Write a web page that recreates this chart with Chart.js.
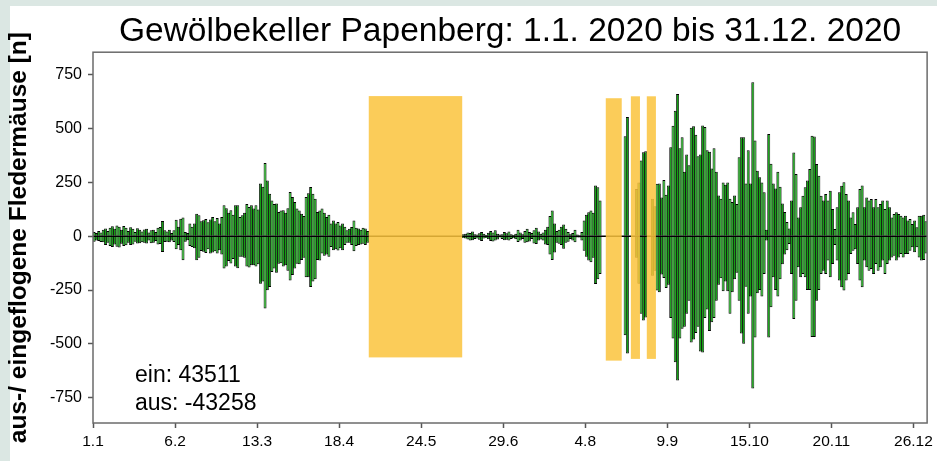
<!DOCTYPE html>
<html>
<head>
<meta charset="utf-8">
<script src="https://cdn.jsdelivr.net/npm/chart.js@4.4.1/dist/chart.umd.min.js"></script>
<style>
  html, body { margin: 0; padding: 0; background: #ffffff; }
  #c { display: block; }
</style>
</head>
<body>
<canvas id="c" width="937" height="461"></canvas>
<script>
// Texts
const chartTitle = 'Gewölbekeller Papenberg: 1.1. 2020 bis 31.12. 2020';
const yAxisTitle = 'aus-/ eingeflogene Fledermäuse [n]';
const summaryLines = ['ein: 43511', 'aus: -43258'];

// Axis ticks (one x label every 36 days, starting 1 January 2020)
const xTickLabels = ['1.1', '6.2', '13.3', '18.4', '24.5', '29.6', '4.8', '9.9', '15.10', '20.11', '26.12'];
const xTickStepDays = 36;
const yTicks = [-750, -500, -250, 0, 250, 500, 750];

// Daily counts of bats flying in (ein), day 0 = 1.1.2020; null = no recording
const ein = [
  20, 15, 25, 18, 30, 36, 25, 40, 47, 35,
  50, 45, 30, 48, 40, 25, 42, 35, 20, 38,
  30, 22, 32, 35, 18, 28, 31, 20, 40, 43,
  71, 28, 22, 30, 15, 28, 77, 45, 82, 88,
  20, 15, 59, 45, 60, 105, 98, 70, 75, 80,
  65, 78, 90, 70, 85, 60, 90, 144, 130, 110,
  121, 100, 144, 144, 90, 98, 110, 150, 136, 144,
  129, 144, 125, 245, 230, 341, 260, 198, 167, 150,
  152, 113, 120, 121, 110, 130, 206, 183, 160, 129,
  120, 105, 95, 183, 200, 229, 198, 175, 113, 120,
  129, 110, 90, 100, 60, 74, 59, 67, 50, 60,
  45, 28, 35, 43, 74, 40, 36, 30, 40, 36,
  25,
  null, null, null, null, null, null, null, null, null, null,
  null, null, null, null, null, null, null, null, null, null,
  null, null, null, null, null, null, null, null, null, null,
  null, null, null, null, null, null, null, null, null, null,
  null,
  10, 12, 18, 15, 22, 10, 8, 14, 20, 12,
  6, 16, 25, 18, 28, 12, 8, 10, 20, 14,
  22, 10, 6, 12, 30, 18, 10, 25, 35, 20,
  15, 28, 40, 22, 12, 18, 30, 45, 95, 120,
  60, 25, 30, 45, 55, 35, 20, 10, 15, 30,
  8, 5, 20, 73, 100, 112, 120, 110, 236, 228,
  166, null, null,
  null, null, null, null, null, null, null, null,
  465, 555, null, null, null, 220, 250, 352, 391, 395, null, null, 175, 140,
  244, 245, 180, 262, 193, 236, 414, 514, 584, 662,
  410, 460, 300, 380, 330, 505, 512, 472, 372, 380,
  515, 508, 400, 393, 315, 410, 300, 190, 175, 250,
  240, 250, 175, 160, 190, 150, 367, 460, 460, 245,
  400, 245, 716, 445, 305, 275, 250, 205, 30, 476,
  337, 245, 222, 300, 230, 152, 113, 67, 36, 166,
  390, 290, 88, 135, 189, 228, 259, 313, 468, 464,
  336, 282, 189, 166, 197, 166, 212, 127, 34, 135,
  205, 235, 251, 197, 166, 88, 112, 57, 135, 220,
  236, 135, 181, 166, 174, 135, 174, 135, 150, 166,
  127, 166, 135, 88, 104, 112, 104, 96, 88, 96,
  73, 81, 57, 73, 42, 96, 96, 100, 70
];

// Daily counts of bats flying out (aus), negative
const aus = [
  -25, -20, -22, -26, -28, -40, -30, -45, -50, -38,
  -48, -52, -35, -45, -42, -30, -40, -38, -25, -34,
  -32, -28, -30, -34, -20, -32, -30, -22, -38, -36,
  -73, -26, -25, -28, -20, -26, -60, -40, -65, -111,
  -25, -18, -45, -50, -55, -111, -100, -68, -72, -78,
  -60, -80, -75, -70, -80, -65, -85, -150, -140, -115,
  -127, -105, -140, -148, -95, -95, -100, -140, -145, -135,
  -135, -140, -130, -220, -210, -336, -251, -236, -166, -150,
  -170, -128, -125, -140, -135, -160, -205, -180, -150, -128,
  -130, -110, -100, -190, -190, -236, -210, -200, -110, -112,
  -80, -90, -85, -95, -50, -65, -60, -66, -55, -65,
  -40, -30, -30, -40, -70, -45, -40, -38, -35, -40,
  -30,
  null, null, null, null, null, null, null, null, null, null,
  null, null, null, null, null, null, null, null, null, null,
  null, null, null, null, null, null, null, null, null, null,
  null, null, null, null, null, null, null, null, null, null,
  null,
  -8, -10, -15, -20, -18, -12, -10, -16, -22, -10,
  -8, -14, -22, -24, -20, -15, -6, -12, -18, -16,
  -20, -12, -8, -14, -26, -20, -12, -30, -28, -24,
  -12, -34, -36, -20, -15, -20, -38, -40, -85, -110,
  -75, -30, -35, -40, -58, -30, -25, -12, -20, -28,
  -6, -5, -20, -67, -95, -113, -121, -100, -222, -200,
  -175, null, null,
  null, null, null, null, null, null, null, null,
  -460, -545, null, null, null, -100, -220, -360, -392, -378, null, null, -183, -160,
  -252, -260, -178, -194, -240, -225, -380, -475, -585, -670,
  -475, -430, -420, -360, -300, -494, -480, -450, -420, -535,
  -540, -380, -340, -440, -400, -380, -300, -225, -195, -255,
  -210, -255, -360, -260, -200, -170, -300, -452, -500, -235,
  -360, -280, -708, -470, -265, -250, -280, -175, -20, -470,
  -330, -190, -250, -280, -200, -130, -85, -65, -36, -175,
  -384, -300, -144, -190, -175, -190, -250, -250, -468, -468,
  -300, -250, -175, -160, -175, -113, -190, -129, -40, -113,
  -206, -237, -252, -206, -175, -82, -67, -60, -129, -206,
  -237, -113, -144, -160, -152, -175, -129, -160, -144, -113,
  -175, -129, -113, -98, -90, -113, -98, -82, -98, -82,
  -82, -67, -51, -74, -51, -98, -113, -110, -80
];

// Periods without recording (day numbers) and the band they are marked with
const gapStart = [121, 225, 236, 243];
const gapEnd   = [162, 232, 240, 247];
const gapLow   = [-563, -578, -570, -570];
const gapHigh  = [652, 642, 651, 651];

const FONT = '"Liberation Sans", Arial, Helvetica, sans-serif';

const toPoints = arr => arr.map((v, i) => ({ x: i + 0.5, y: v }));

const panelPlugin = {
  id: 'panel',
  beforeDraw(chart) {
    const { ctx, width, height } = chart;
    ctx.save();
    ctx.fillStyle = '#dbe7e3';
    ctx.fillRect(0, 0, width, height);
    ctx.fillStyle = '#ffffff';
    ctx.fillRect(10, 6, width - 10, height - 6);
    ctx.restore();
  },
  afterDatasetsDraw(chart) {
    const { ctx, chartArea: a, scales: { x, y } } = chart;
    ctx.save();
    // zero line over the bars
    const y0px = y.getPixelForValue(0);
    ctx.strokeStyle = '#000000';
    ctx.lineWidth = 1.6;
    ctx.beginPath();
    ctx.moveTo(a.left, y0px);
    ctx.lineTo(a.right, y0px);
    ctx.stroke();
    // no-recording bands
    ctx.fillStyle = 'rgba(250, 195, 60, 0.85)';
    for (let i = 0; i < gapStart.length; i++) {
      const x0 = x.getPixelForValue(gapStart[i]);
      const x1 = x.getPixelForValue(gapEnd[i]);
      const yt = y.getPixelForValue(gapHigh[i]);
      const yb = y.getPixelForValue(gapLow[i]);
      ctx.fillRect(x0, yt, x1 - x0, yb - yt);
    }
    // plot frame
    ctx.strokeStyle = '#6b6b6b';
    ctx.lineWidth = 1.5;
    ctx.strokeRect(a.left, a.top, a.right - a.left, a.bottom - a.top);
    // yearly totals
    ctx.fillStyle = '#000000';
    ctx.font = '23px ' + FONT;
    ctx.textBaseline = 'alphabetic';
    ctx.textAlign = 'left';
    ctx.fillText(summaryLines[0], a.left + 42, 382);
    ctx.fillText(summaryLines[1], a.left + 42, 410);
    ctx.restore();
  }
};

const barStyle = {
  backgroundColor: '#14a014',
  borderColor: '#000000',
  borderWidth: { left: 0.8, right: 0.8, top: 1, bottom: 1 },
  borderSkipped: 'start',
  barPercentage: 1.3,
  categoryPercentage: 1
};

new Chart(document.getElementById('c'), {
  type: 'bar',
  data: {
    datasets: [
      Object.assign({ label: 'ein', data: toPoints(ein) }, barStyle),
      Object.assign({ label: 'aus', data: toPoints(aus) }, barStyle)
    ]
  },
  options: {
    responsive: false,
    animation: false,
    devicePixelRatio: 1,
    layout: { padding: { left: 0, right: 9, top: 0, bottom: 0 } },
    plugins: {
      legend: { display: false },
      tooltip: { enabled: false },
      title: {
        display: true,
        text: chartTitle,
        fullSize: false,
        color: '#000000',
        font: { family: FONT, size: 33.5, weight: 'normal', lineHeight: 1.2 },
        padding: { top: 12, bottom: 0 }
      }
    },
    scales: {
      x: {
        type: 'linear',
        min: 0,
        max: 366,
        stacked: true,
        offset: false,
        border: { display: false },
        grid: { offset: false, drawOnChartArea: false, tickLength: 5, tickColor: '#555555', tickWidth: 1.5 },
        ticks: {
          stepSize: xTickStepDays,
          includeBounds: false,
          autoSkip: false,
          maxRotation: 0,
          padding: 4,
          color: '#000000',
          font: { family: FONT, size: 15.5 },
          callback: v => xTickLabels[Math.round(v / xTickStepDays)] ?? ''
        },
        afterFit: s => { s.height = 38; }
      },
      y: {
        min: -868,
        max: 856,
        stacked: true,
        border: { display: false },
        grid: {
          drawOnChartArea: false,
          tickLength: 5,
          tickColor: '#555555',
          tickWidth: 1.5
        },
        afterBuildTicks: s => { s.ticks = yTicks.map(v => ({ value: v })); },
        ticks: {
          padding: 6,
          color: '#000000',
          font: { family: FONT, size: 16 }
        },
        title: {
          display: true,
          text: yAxisTitle,
          color: '#000000',
          font: { family: FONT, size: 24.5, weight: 'bold', lineHeight: 1.2 },
          padding: { top: 5, bottom: 0 }
        },
        afterFit: s => { s.width = 93; }
      }
    }
  },
  plugins: [panelPlugin]
});
</script>
</body>
</html>
